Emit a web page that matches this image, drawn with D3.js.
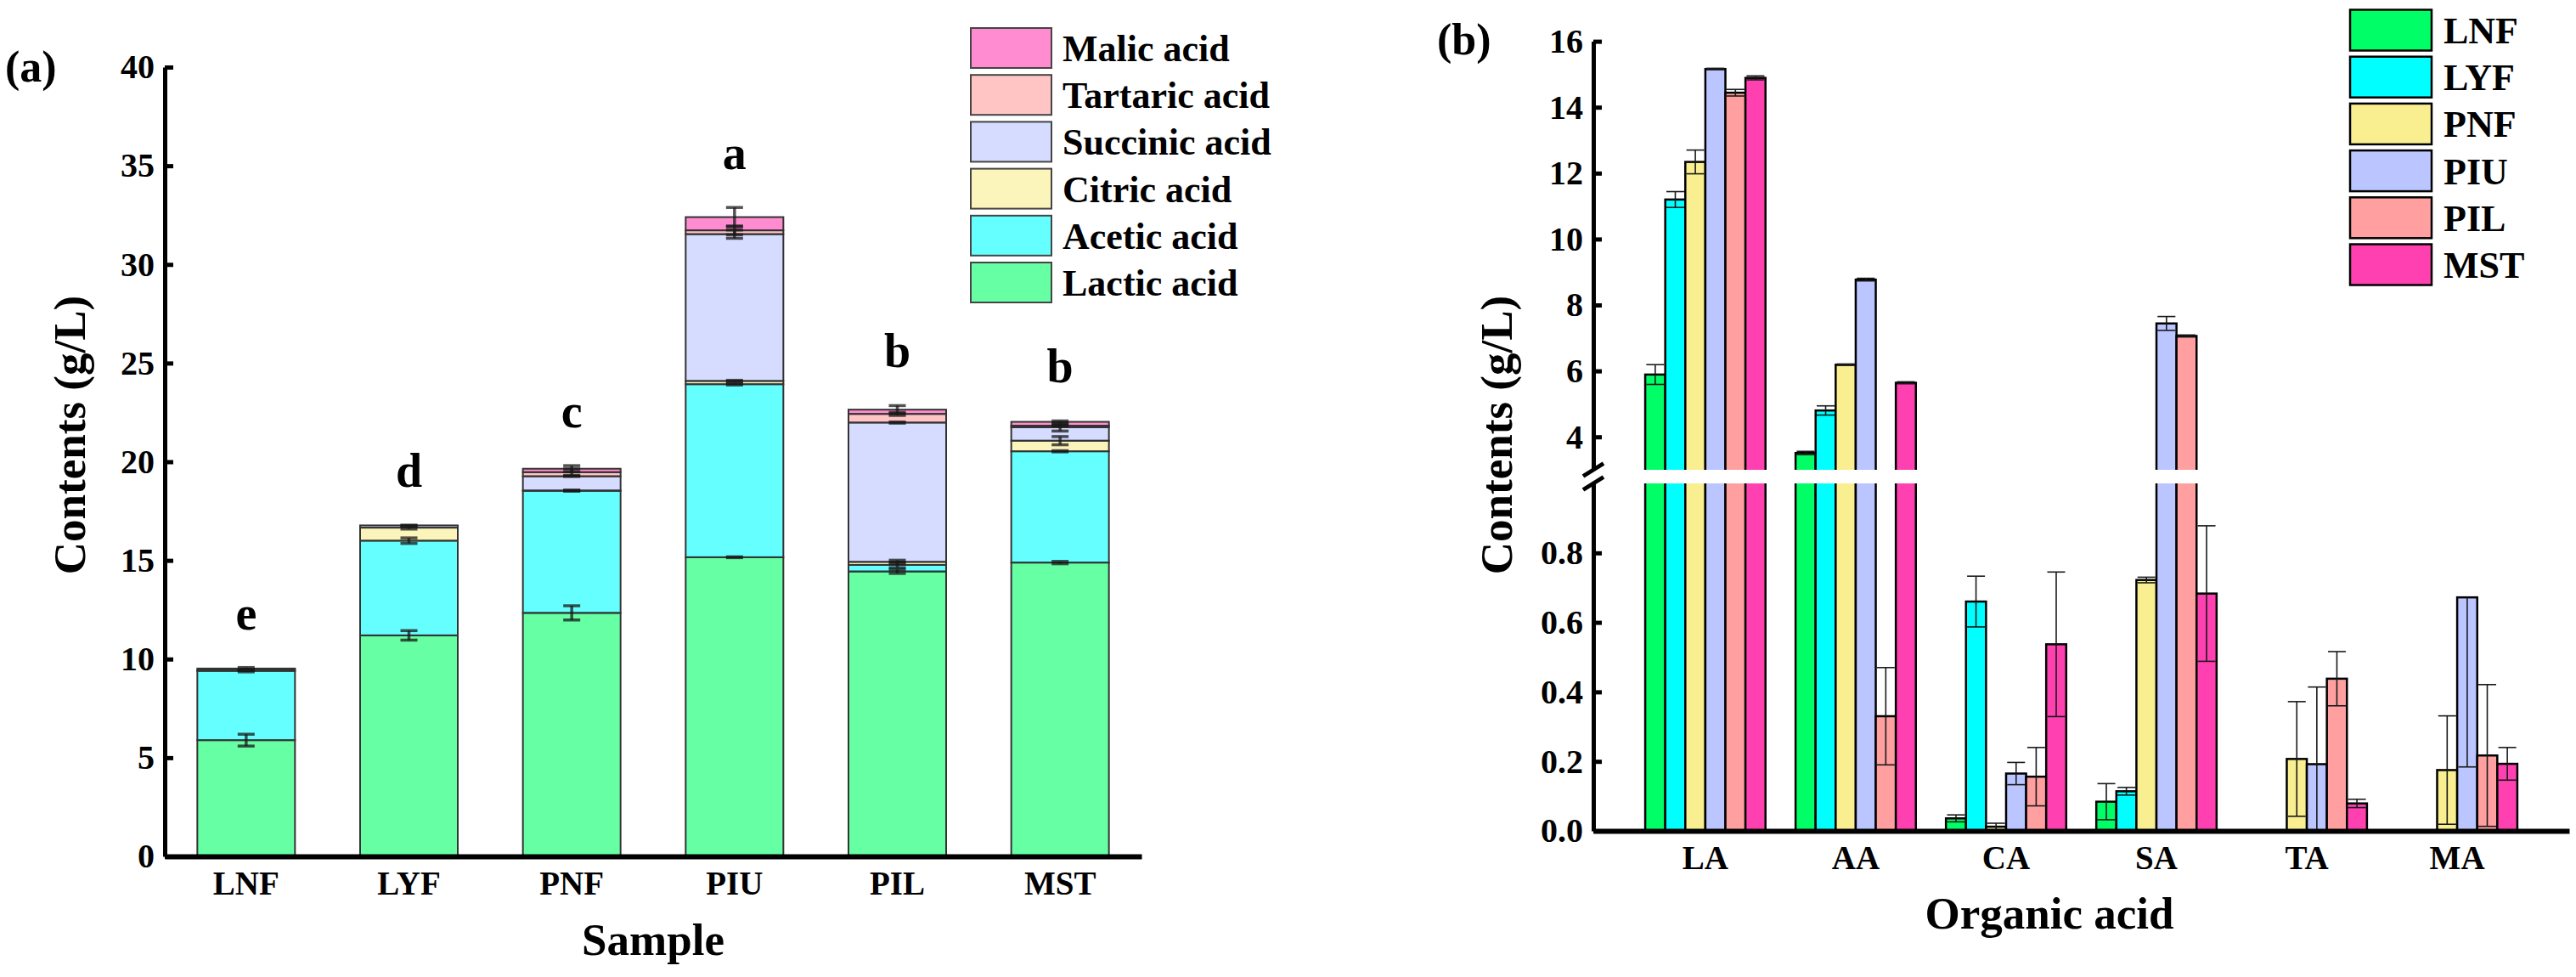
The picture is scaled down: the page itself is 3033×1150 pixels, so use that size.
<!DOCTYPE html>
<html>
<head>
<meta charset="utf-8">
<script src="https://cdn.jsdelivr.net/npm/d3@7"></script>
<style>
    body { margin: 0; background: #fff; }
    text { font-family: "Liberation Serif", "Times New Roman", serif; font-weight: bold; fill: #000; }
</style>
</head>
<body>
<div id="chart"></div>
<script>
// samples and acids
const samples = ["LNF", "LYF", "PNF", "PIU", "PIL", "MST"];
const acids = ["Lactic acid", "Acetic acid", "Citric acid", "Succinic acid", "Tartaric acid", "Malic acid"];
const acidCodes = ["LA", "AA", "CA", "SA", "TA", "MA"];
const letters = ["e", "d", "c", "a", "b", "b"];

// contents (g/L), one value per sample
const lactic = [5.89, 11.20, 12.34, 15.16, 14.44, 14.89];
const acetic = [3.51, 4.80, 6.19, 8.77, 0.33, 5.64];
const citric = [0.036, 0.66, 0.012, 0.165, 0.156, 0.537];
const succinic = [0.084, 0.114, 0.722, 7.44, 7.06, 0.683];
const tartaric = [0, 0, 0.207, 0.192, 0.438, 0.079];
const malic = [0, 0, 0.175, 0.672, 0.217, 0.193];

// standard deviations
const lacticErr = [0.30, 0.24, 0.36, 0.02, 0.10, 0.06];
const aceticErr = [0.05, 0.14, 0.02, 0.04, 0.14, 0.03];
const citricErr = [0.01, 0.073, 0.01, 0.032, 0.084, 0.208];
const succinicErr = [0.052, 0.011, 0.008, 0.21, 0.03, 0.195];
const tartaricErr = [0, 0, 0.165, 0.222, 0.078, 0.012];
const malicErr = [0, 0, 0.156, 0.488, 0.204, 0.047];

const ticksA = [0, 5, 10, 15, 20, 25, 30, 35, 40];
const ticksHigh = [4, 6, 8, 10, 12, 14, 16];
const ticksLow = [0, 0.2, 0.4, 0.6, 0.8];

const values = [lactic, acetic, citric, succinic, tartaric, malic];
const errors = [lacticErr, aceticErr, citricErr, succinicErr, tartaricErr, malicErr];

const W = 3033, H = 1150;

const svg = d3.select("#chart")
    .append("svg")
    .attr("width", W)
    .attr("height", H);

svg.append("rect").attr("width", W).attr("height", H).attr("fill", "#fff");

const sampleColor = d3.scaleOrdinal()
    .domain(samples)
    .range(["#00ff66", "#00ffff", "#f9ee90", "#bbc5ff", "#ff9f9f", "#ff40b0"]);
// panel (a) reuses the same palette, one colour per acid, washed out
const acidColor = d3.scaleOrdinal().domain(acids).range(sampleColor.range());

function styleAxis(g, size) {
    g.attr("font-family", null).attr("font-size", null);
    g.select(".domain").attr("stroke-width", 5);
    g.selectAll(".tick line").attr("stroke-width", 5);
    g.selectAll(".tick text").style("font-size", size + "px");
}

// ---------------- panel (a): stacked bars ----------------
const table = samples.map((s, i) => {
    let row = { sample: s };
    acids.forEach((a, j) => (row[a] = values[j][i]));
    return row;
});
const series = d3.stack().keys(acids)(table);

const xA = d3.scaleBand().domain(samples).range([194, 1344]).paddingInner(0.4).paddingOuter(0.2);
const yA = d3.scaleLinear().domain([0, 40]).range([1008, 79]);

const gA = svg.append("g").attr("class", "panel-a");

series.forEach((s) => {
    gA.append("g")
        .selectAll("rect")
        .data(s)
        .join("rect")
        .attr("x", (d) => xA(d.data.sample))
        .attr("width", xA.bandwidth())
        .attr("y", (d) => yA(d[1]))
        .attr("height", (d) => yA(d[0]) - yA(d[1]))
        .attr("fill", acidColor(s.key))
        .attr("fill-opacity", 0.6)
        .attr("stroke", "#333")
        .attr("stroke-width", 2);
});

// error bars on each stacked segment
const errA = gA.append("g").attr("stroke", "#1a1a1a").attr("stroke-opacity", 0.75).attr("stroke-width", 3.5);
series.forEach((s, j) => {
    s.forEach((d, i) => {
        const e = errors[j][i];
        if (e <= 0) return;
        const cx = xA(d.data.sample) + xA.bandwidth() / 2;
        const y1 = yA(d[1] + e), y0 = yA(d[1] - e);
        errA.append("line").attr("x1", cx).attr("x2", cx).attr("y1", y1).attr("y2", y0);
        errA.append("line").attr("x1", cx - 10).attr("x2", cx + 10).attr("y1", y1).attr("y2", y1);
        errA.append("line").attr("x1", cx - 10).attr("x2", cx + 10).attr("y1", y0).attr("y2", y0);
    });
});

// significance letters above the highest error bar
samples.forEach((s, i) => {
    let top = 0;
    series.forEach((ser, j) => (top = Math.max(top, ser[i][1] + errors[j][i])));
    gA.append("text")
        .attr("x", xA(s) + xA.bandwidth() / 2)
        .attr("y", yA(top) - 45)
        .attr("text-anchor", "middle")
        .style("font-size", "56px")
        .text(letters[i]);
});

// axes (a)
gA.append("g")
    .attr("transform", "translate(194,0)")
    .call(d3.axisLeft(yA).tickValues(ticksA).tickSizeInner(-10).tickSizeOuter(0).tickPadding(12))
    .call((g) => styleAxis(g, 40));

gA.append("g")
    .attr("transform", "translate(0,1008)")
    .call(d3.axisBottom(xA).tickSize(0))
    .call((g) => {
        styleAxis(g, 39);
        g.select(".domain").attr("stroke-width", 6);
        g.selectAll(".tick text").attr("y", 45).attr("dy", 0);
    });

gA.append("text")
    .attr("transform", "translate(100,512) rotate(-90)")
    .attr("text-anchor", "middle")
    .style("font-size", "53px")
    .text("Contents (g/L)");

gA.append("text")
    .attr("x", (194 + 1344) / 2)
    .attr("y", 1124)
    .attr("text-anchor", "middle")
    .style("font-size", "53px")
    .text("Sample");

gA.append("text").attr("x", 6).attr("y", 96).style("font-size", "52px").text("(a)");

// legend (a), Malic on top
const legA = gA.append("g").attr("transform", "translate(1143,33)");
acids.slice().reverse().forEach((a, k) => {
    legA.append("rect")
        .attr("y", k * 55.2)
        .attr("width", 95)
        .attr("height", 47)
        .attr("fill", acidColor(a))
        .attr("fill-opacity", 0.6)
        .attr("stroke", "#444")
        .attr("stroke-width", 2);
    legA.append("text")
        .attr("x", 108)
        .attr("y", k * 55.2 + 23.5)
        .attr("dy", "0.35em")
        .style("font-size", "44px")
        .text(a);
});

// ---------------- panel (b): grouped bars with broken axis ----------------
const axisXB = 1876;
const xB = d3.scaleBand().domain(acidCodes).range([axisXB, 3025]).paddingInner(0).paddingOuter(0.245);
const xSub = d3.scaleBand().domain(samples).range([xB.bandwidth() * 0.1, xB.bandwidth() * 0.9]);
const yHi = d3.scaleLinear().domain([3, 16]).range([553, 48.6]);
const yLo = d3.scaleLinear().domain([0, 1]).range([978, 569]);

const gB = svg.append("g").attr("class", "panel-b");
const defs = svg.append("defs");
defs.append("clipPath").attr("id", "clip-hi")
    .append("rect").attr("x", axisXB).attr("y", 0).attr("width", W - axisXB).attr("height", yHi(3));
defs.append("clipPath").attr("id", "clip-lo")
    .append("rect").attr("x", axisXB).attr("y", yLo(1)).attr("width", W - axisXB).attr("height", yLo(0) - yLo(1));

const bars = [];
acidCodes.forEach((c, j) => {
    samples.forEach((s, i) => {
        bars.push({ acid: c, sample: s, v: values[j][i], e: errors[j][i] });
    });
});
const shown = bars.filter((d) => d.v > 0);

const hiG = gB.append("g").attr("clip-path", "url(#clip-hi)");
const loG = gB.append("g").attr("clip-path", "url(#clip-lo)");

const barX = (d) => xB(d.acid) + xSub(d.sample);

hiG.selectAll("rect")
    .data(shown.filter((d) => d.v > 3))
    .join("rect")
    .attr("x", barX)
    .attr("width", xSub.bandwidth())
    .attr("y", (d) => yHi(d.v))
    .attr("height", (d) => yHi(2.8) - yHi(d.v))
    .attr("fill", (d) => sampleColor(d.sample))
    .attr("stroke", "#000")
    .attr("stroke-width", 2.5);

loG.selectAll("rect")
    .data(shown)
    .join("rect")
    .attr("x", barX)
    .attr("width", xSub.bandwidth())
    .attr("y", (d) => yLo(Math.min(d.v, 1.1)))
    .attr("height", (d) => yLo(0) - yLo(Math.min(d.v, 1.1)))
    .attr("fill", (d) => sampleColor(d.sample))
    .attr("stroke", "#000")
    .attr("stroke-width", 2.5);

// error bars: a half is dropped when its end falls inside the break
const errB = gB.append("g").attr("stroke", "#1a1a1a").attr("stroke-width", 1.6);
shown.filter((d) => d.e > 0).forEach((d) => {
    const y = d.v > 3 ? yHi : yLo;
    const [lo, hi] = y.domain();
    const cx = barX(d) + xSub.bandwidth() / 2;
    const up = d.v + d.e, down = d.v - d.e;
    if (up <= hi) {
        errB.append("line").attr("x1", cx).attr("x2", cx).attr("y1", y(d.v)).attr("y2", y(up));
        errB.append("line").attr("x1", cx - 10.5).attr("x2", cx + 10.5).attr("y1", y(up)).attr("y2", y(up));
    }
    errB.append("line").attr("x1", cx).attr("x2", cx).attr("y1", y(d.v)).attr("y2", y(Math.max(down, lo)));
    if (down >= lo) {
        errB.append("line").attr("x1", cx - 10.5).attr("x2", cx + 10.5).attr("y1", y(down)).attr("y2", y(down));
    }
});

// axes (b)
gB.append("g")
    .attr("transform", `translate(${axisXB},0)`)
    .call(d3.axisLeft(yHi).tickValues(ticksHigh).tickSizeInner(-10).tickSizeOuter(0).tickPadding(12))
    .call((g) => styleAxis(g, 40));

gB.append("g")
    .attr("transform", `translate(${axisXB},0)`)
    .call(d3.axisLeft(yLo).tickValues(ticksLow).tickFormat(d3.format(".1f")).tickSizeInner(-10).tickSizeOuter(0).tickPadding(12))
    .call((g) => styleAxis(g, 40));

gB.append("g")
    .attr("transform", `translate(0,${yLo(0)})`)
    .call(d3.axisBottom(xB).tickSize(0))
    .call((g) => {
        styleAxis(g, 39);
        g.select(".domain").attr("stroke-width", 6);
        g.selectAll(".tick text").attr("y", 45).attr("dy", 0);
    });

// break marks on the y axis
[yHi(3), yLo(1)].forEach((yb) => {
    gB.append("line")
        .attr("x1", axisXB - 12).attr("y1", yb + 7.5)
        .attr("x2", axisXB + 12).attr("y2", yb - 7.5)
        .attr("stroke", "#000")
        .attr("stroke-width", 5);
});

gB.append("text")
    .attr("transform", "translate(1780,512) rotate(-90)")
    .attr("text-anchor", "middle")
    .style("font-size", "53px")
    .text("Contents (g/L)");

gB.append("text")
    .attr("x", 2413)
    .attr("y", 1093)
    .attr("text-anchor", "middle")
    .style("font-size", "53px")
    .text("Organic acid");

gB.append("text").attr("x", 1692).attr("y", 64).style("font-size", "52px").text("(b)");

// legend (b)
const legB = gB.append("g").attr("transform", "translate(2767,11.5)");
samples.forEach((s, k) => {
    legB.append("rect")
        .attr("y", k * 55.2)
        .attr("width", 96)
        .attr("height", 48)
        .attr("fill", sampleColor(s))
        .attr("stroke", "#000")
        .attr("stroke-width", 2.5);
    legB.append("text")
        .attr("x", 110)
        .attr("y", k * 55.2 + 24)
        .attr("dy", "0.35em")
        .style("font-size", "44px")
        .text(s);
});
</script>
</body>
</html>
